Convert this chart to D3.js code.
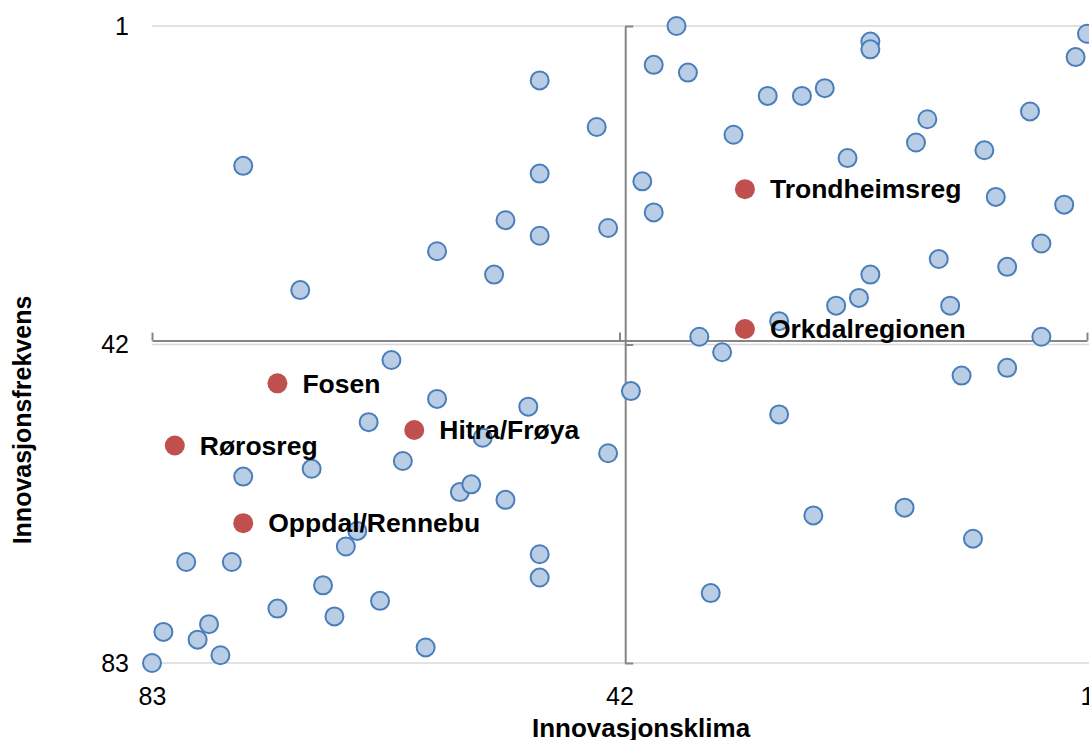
<!DOCTYPE html>
<html>
<head>
<meta charset="utf-8">
<script src="https://cdn.jsdelivr.net/npm/d3@7"></script>
<style>
  html, body { margin: 0; padding: 0; background: #ffffff; }
  svg { display: block; }
  text { font-family: "Liberation Sans", Arial, sans-serif; fill: #000; }
</style>
</head>
<body>
<svg id="chart" width="1089" height="740"></svg>
<script>
// Rank on innovation climate (x) and innovation frequency (y), 1 = best
const municipalityClimate = [37, 39, 36, 20, 20, 1, 2, 29, 26, 24, 6, 44, 32, 15, 16, 10, 22, 40, 9, 3,
  39, 43, 5, 28, 23, 21, 13, 35, 5, 33, 41, 12, 8, 28, 14, 8, 20, 49, 75, 49,
  52, 49, 58, 53, 70, 62, 58, 64, 50, 54, 61, 69, 75, 43, 56, 55, 52, 65, 66, 80,
  76, 49, 49, 68, 72, 63, 67, 82, 78, 79, 77, 83, 59, 25, 17, 11, 34];
const municipalityFrequency = [1, 6, 7, 3, 4, 2, 5, 10, 10, 9, 12, 14, 15, 13, 16, 17, 18, 21, 23, 24,
  25, 27, 29, 39, 37, 36, 37, 41, 41, 43, 48, 46, 45, 51, 31, 32, 33, 8, 19, 20,
  26, 28, 30, 33, 35, 44, 49, 52, 50, 54, 57, 58, 59, 56, 61, 60, 62, 66, 68, 70,
  70, 69, 72, 73, 76, 75, 77, 79, 78, 80, 82, 83, 81, 64, 63, 67, 74];

// Highlighted regions
const regionNames = ["Trondheimsreg", "Orkdalregionen", "Fosen", "Hitra/Frøya", "Rørosreg", "Oppdal/Rennebu"];
const regionClimate = [31, 31, 72, 60, 81, 75];
const regionFrequency = [22, 40, 47, 53, 55, 65];

const xTicks = [83, 42, 1];
const yTicks = [1, 42, 83];
const axisCross = 41.5;
const xTitle = "Innovasjonsklima";
const yTitle = "Innovasjonsfrekvens";

const svg = d3.select("#chart");

// Both axes run from worst (83) to best (1)
const x = d3.scaleLinear().domain([83, 1]).range([152, 1087]);
const y = d3.scaleLinear().domain([1, 83]).range([26, 663]);

// Horizontal gridlines
svg.append("g")
  .selectAll("line")
  .data(yTicks)
  .join("line")
  .attr("x1", x(83)).attr("x2", 1089)
  .attr("y1", d => y(d)).attr("y2", d => y(d))
  .attr("stroke", "#d9d9d9")
  .attr("stroke-width", 1.5);

// Crossing axes through the middle of the ranking
const hAxis = svg.append("g")
  .attr("transform", `translate(0,${y(axisCross)})`)
  .call(d3.axisTop(x).tickValues(xTicks).tickSize(8).tickSizeOuter(0).tickFormat(""));
const vAxis = svg.append("g")
  .attr("transform", `translate(${x(axisCross)},0)`)
  .call(d3.axisRight(y).tickValues(yTicks).tickSize(8).tickSizeOuter(0).tickFormat(""));
[hAxis, vAxis].forEach(g => {
  g.selectAll("path, line").attr("stroke", "#868686").attr("stroke-width", 2);
});

// Tick labels along the bottom and left edges
const xLabels = svg.append("g")
  .attr("transform", `translate(0,${y(83)})`)
  .call(d3.axisBottom(x).tickValues(xTicks).tickSize(0).tickPadding(24).tickFormat(d3.format("d")));
const yLabels = svg.append("g")
  .attr("transform", `translate(${x(83)},0)`)
  .call(d3.axisLeft(y).tickValues(yTicks).tickSize(0).tickPadding(23).tickFormat(d3.format("d")));
[xLabels, yLabels].forEach(g => {
  g.select(".domain").remove();
  g.selectAll("text")
    .attr("font-family", "'Liberation Sans', Arial, sans-serif")
    .attr("font-size", 25)
    .attr("fill", "#000");
});

// Municipalities
svg.append("g")
  .selectAll("circle")
  .data(d3.range(municipalityClimate.length))
  .join("circle")
  .attr("cx", i => x(municipalityClimate[i]))
  .attr("cy", i => y(municipalityFrequency[i]))
  .attr("r", 9)
  .attr("fill", "#b9cde5")
  .attr("stroke", "#4a7ebb")
  .attr("stroke-width", 2);

// Regions
svg.append("g")
  .selectAll("circle")
  .data(d3.range(regionNames.length))
  .join("circle")
  .attr("cx", i => x(regionClimate[i]))
  .attr("cy", i => y(regionFrequency[i]))
  .attr("r", 10)
  .attr("fill", "#c0504d");

svg.append("g")
  .selectAll("text")
  .data(d3.range(regionNames.length))
  .join("text")
  .attr("x", i => x(regionClimate[i]) + 25)
  .attr("y", i => y(regionFrequency[i]))
  .attr("dy", "0.35em")
  .attr("font-size", 26.5)
  .attr("font-weight", "bold")
  .text(i => regionNames[i]);

// Axis titles
svg.append("text")
  .attr("x", 641)
  .attr("y", 737)
  .attr("text-anchor", "middle")
  .attr("font-size", 26)
  .attr("font-weight", "bold")
  .text(xTitle);

svg.append("text")
  .attr("transform", "translate(31,420) rotate(-90)")
  .attr("text-anchor", "middle")
  .attr("font-size", 25)
  .attr("font-weight", "bold")
  .text(yTitle);
</script>
</body>
</html>
